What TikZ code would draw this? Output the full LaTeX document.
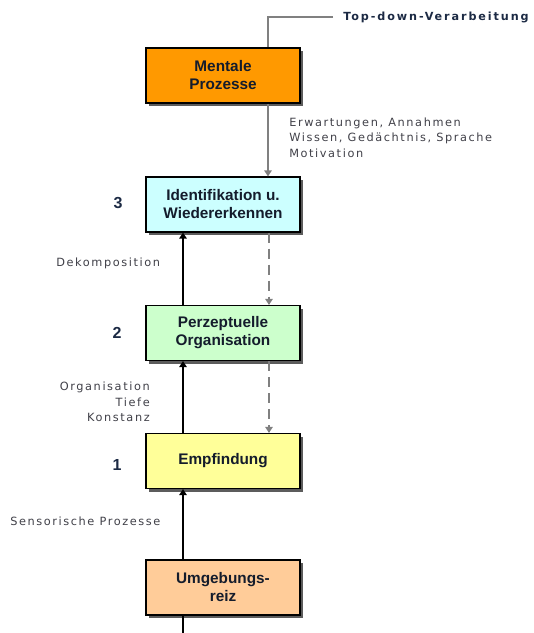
\documentclass[tikz,border=0pt]{standalone}
\usepackage{fontspec}
\setmainfont{Liberation Sans}
\newfontfamily\notefont[LetterSpace=14]{DejaVu Sans}
\newfontfamily\headfont[LetterSpace=17]{DejaVu Sans}
\usetikzlibrary{arrows.meta,calc,shadows}

\definecolor{cOrange}{HTML}{FF9900}
\definecolor{cCyan}{HTML}{CCFFFF}
\definecolor{cGreen}{HTML}{CCFFCC}
\definecolor{cYellow}{HTML}{FFFF99}
\definecolor{cPeach}{HTML}{FFCC99}
\definecolor{cNote}{HTML}{404048}
\definecolor{cNavy}{HTML}{1C2A44}
\definecolor{cInk}{HTML}{141C2C}
\definecolor{cLine}{HTML}{808080}

\tikzset{
  stage/.style={draw=black, line width=0.8pt, minimum width=115.5pt, minimum height=41.25pt,
    inner sep=0pt, align=center, text=cInk,
    font=\fontsize{11.5}{13.5}\selectfont\bfseries,
    drop shadow={shadow xshift=2.3pt, shadow yshift=-2.3pt, fill=black!75, opacity=0.85}},
  note/.style={inner sep=0pt, text=cNote, font=\notefont\fontsize{8.5}{11.6}\selectfont},
  level/.style={inner sep=0pt, text=cNavy, font=\fontsize{12}{14}\selectfont\bfseries},
  upflow/.style={line width=1.9pt, black, -{Triangle[width=5.5pt,length=4.5pt]}},
  topflow/.style={line width=1.8pt, cLine},
  downflow/.style={line width=1.8pt, cLine, -{Triangle[width=5.5pt,length=4.5pt]}},
  dashflow/.style={downflow, dash pattern=on 7.5pt off 4.5pt},
}

\begin{document}
\begin{tikzpicture}[x=0.75pt, y=-0.75pt]
  \useasboundingbox (0,0) rectangle (533,633);

  % stages of perception
  \node[stage, fill=cOrange] (mp) at (223,75.5)  {Mentale\\Prozesse};
  \node[stage, fill=cCyan]   (id) at (223,204.5) {Identifikation u.\\Wiedererkennen};
  \node[stage, fill=cGreen]  (po) at (223,333)   {Perzeptuelle\\Organisation};
  \node[stage, fill=cYellow] (em) at (223,461)   {Empfindung};
  \node[stage, fill=cPeach]  (ur) at (223,587.5) {Umgebungs-\\reiz};

  % level numbers
  \node[level] (n3) at (118,203) {3};
  \node[level] (n2) at (117,333) {2};
  \node[level] (n1) at (117,465) {1};

  % annotations
  \node[inner sep=0pt, anchor=west, text=cNavy, font=\headfont\fontsize{8.4}{10}\selectfont\bfseries]
    (td) at (343,17) {Top-down-Verarbeitung};
  \node[note, anchor=west, align=left] (kn) at (289,137.5)
    {Erwartungen, Annahmen\\Wissen, Gedächtnis, Sprache\\Motivation};
  \node[note, anchor=west] (dk) at (56,263) {Dekomposition};
  \node[note, anchor=east, align=right] (ot) at (150,402) {Organisation\\Tiefe\\Konstanz};
  \node[note, anchor=west] (sp) at (10,521) {Sensorische Prozesse};

  % top-down path
  \coordinate (tdin) at (333,17);
  \draw[topflow] (tdin) -| ($(mp.north)+(45,0)$);
  \draw[downflow] ($(mp.south)+(45,0)$) -- ($(id.north)+(45,0)$);
  \draw[dashflow] ($(id.south)+(46,0)$) -- ($(po.north)+(46,0)$);
  \draw[dashflow] ($(po.south)+(46,0)$) -- ($(em.north)+(46,0)$);

  % bottom-up path
  \coordinate (src) at (183,633);
  \draw[line width=1.9pt] (src) -- ($(ur.south)+(-40,0)$);
  \draw[upflow] ($(ur.north)+(-40,0)$) -- ($(em.south)+(-40,0)$);
  \draw[upflow] ($(em.north)+(-40,0)$) -- ($(po.south)+(-40,0)$);
  \draw[upflow] ($(po.north)+(-40,0)$) -- ($(id.south)+(-40,0)$);
\end{tikzpicture}
\end{document}
